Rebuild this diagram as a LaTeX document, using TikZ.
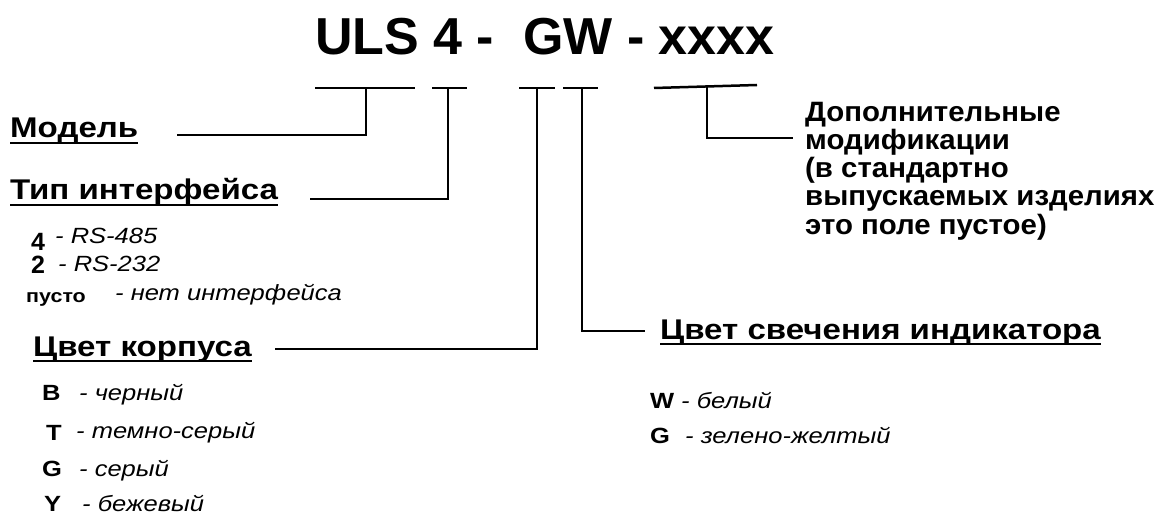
\documentclass[tikz,border=0pt]{standalone}
\usepackage{fontspec}
\setmainfont{Liberation Sans}
\newfontfamily\widefont{Liberation Sans}[FakeStretch=1.16]
\newfontfamily\notefont{Liberation Sans}[FakeStretch=1.05]
\usetikzlibrary{positioning,calc}
\tikzstyle{heading}=[inner sep=0pt,anchor=base west,font=\widefont\fontsize{28.5}{28.5}\selectfont\bfseries]
\tikzstyle{note}=[inner sep=0pt,anchor=base west,font=\notefont\fontsize{28}{28}\selectfont\bfseries]
\tikzstyle{code}=[inner sep=0pt,anchor=base west,font=\widefont\fontsize{22}{22}\selectfont\bfseries]
\tikzstyle{choice}=[inner sep=0pt,anchor=base west,font=\widefont\fontsize{22}{22}\selectfont\itshape]
\tikzstyle{link}=[line width=2.5pt]
\tikzstyle{uline}=[line width=2.2pt]

\begin{document}
\begin{tikzpicture}[x=1pt,y=-1pt]
\useasboundingbox (0,0) rectangle (1160,516);
\node (T) [inner sep=0pt,anchor=base west,font=\fontsize{52}{52}\selectfont\bfseries] at (315,55) {ULS 4 -\ \ GW - xxxx};

% field brackets under the code
\coordinate (fm) at (366,88);
\coordinate (fi) at (448,88);
\coordinate (fc) at (537,88);
\coordinate (fl) at (582,88);
\coordinate (fx) at (707,87);
\draw[link] (315,88) -- (415,88);
\draw[link] (432,88) -- (467,88);
\draw[link] (519,88) -- (555,88);
\draw[link] (563,88) -- (598,88);
\draw[link] (654,88) -- (757,85);

% headings
\node (M) [heading] at (10,138) {Модель};
\node (I) [heading] at (10,200) {Тип интерфейса};
\node (C) [heading] at (33,356) {Цвет корпуса};
\node (L) [heading] at (660,339) {Цвет свечения индикатора};
\foreach \n in {M,I,C,L}
  \draw[uline] ([yshift=-5pt]\n.base west) -- ([yshift=-5pt]\n.base east);

\node (X1) [note] at (805,122) {Дополнительные};
\node (X2) [note] at (805,150) {модификации};
\node (X3) [note] at (805,178) {(в стандартно};
\node (X4) [note] at (805,206) {выпускаемых изделиях};
\node (X5) [note] at (805,234) {это поле пустое)};

\coordinate (Me) at (177,135);
\coordinate (Ie) at (310,199);
\coordinate (Ce) at (275,349);
\coordinate (Le) at (645,331);
\coordinate (Xe) at (793,138);
\draw[link] (fm) |- (Me);
\draw[link] (fi) |- (Ie);
\draw[link] (fc) |- (Ce);
\draw[link] (fl) |- (Le);
\draw[link] (fx) |- (Xe);

% interface choices
\node (i4) [code,font=\fontsize{25}{25}\selectfont\bfseries] at (31,250) {4};
\node (i4t) [choice] at (55,243) {- RS-485};
\node (i2) [code,font=\fontsize{25}{25}\selectfont\bfseries] at (31,273) {2};
\node (i2t) [choice] at (58,271) {- RS-232};
\node (i0) [code,font=\widefont\fontsize{18.5}{18.5}\selectfont\bfseries] at (26,302) {пусто};
\node (i0t) [choice] at (115,300) {- нет интерфейса};

% body colours
\node (cB) [code] at (42,400) {B};
\node (cBt) [choice] at (79,400) {- черный};
\node (cT) [code] at (46,440) {T};
\node (cTt) [choice] at (76,438) {- темно-серый};
\node (cG) [code] at (42,476) {G};
\node (cGt) [choice] at (79,476) {- серый};
\node (cY) [code] at (44,511) {Y};
\node (cYt) [choice] at (82,511) {- бежевый};

% indicator colours
\node (lW) [code] at (650,408) {W};
\node (lWt) [choice] at (681,408) {- белый};
\node (lG) [code] at (650,443) {G};
\node (lGt) [choice] at (685,443) {- зелено-желтый};
\end{tikzpicture}
\end{document}
